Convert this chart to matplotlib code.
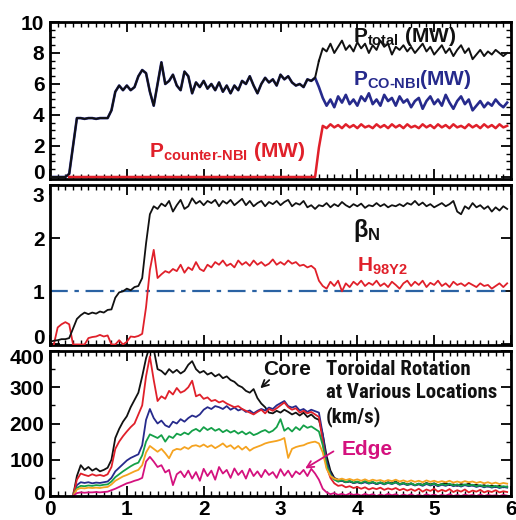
import numpy as np
import matplotlib
matplotlib.use("Agg")
import matplotlib.pyplot as plt
from matplotlib.ticker import MultipleLocator
from matplotlib.transforms import ScaledTranslation
from matplotlib import font_manager as fm

nan = float("nan")

# ---------------- data (time in s, sampled every 0.05 s) ----------------
time_s = np.round(np.arange(120) * 0.05, 2)

p_total = [0, 0, 0, 0, 0, 0.2, 2.0, 3.8,
           3.8, 3.75, 3.8, 3.8, 3.75, 3.8, 3.8, 3.8,
           4.3, 5.5, 5.9, 5.6, 5.9, 5.6, 5.8, 6.5,
           6.9, 6.7, 5.5, 4.6, 6.0, 7.4, 6.0, 6.2,
           6.6, 5.9, 5.6, 6.8, 6.5, 5.4, 6.1, 5.8,
           6.2, 5.7, 6.0, 5.6, 6.1, 5.5, 5.9, 5.4,
           5.9, 5.6, 6.2, 6.0, 6.5, 5.9, 5.4, 6.0,
           6.4, 6.1, 6.3, 5.9, 6.6, 6.3, 6.5, 6.1,
           5.9, 6.0, 5.8, 6.3, 6.2, 6.4, 7.5, 8.3,
           8.1, 8.6, 8.0, 8.4, 8.8, 8.2, 8.5, 8.1,
           8.7, 8.3, 8.6, 8.0, 8.5, 8.2, 8.8, 8.4,
           8.6, 7.9, 8.4, 8.2, 8.5, 8.1, 8.4, 8.0,
           8.3, 8.6, 8.1, 8.4, 7.9, 8.2, 8.5, 8.0,
           8.3, 7.8, 8.2, 8.5, 8.0, 8.3, 7.6, 7.9,
           8.2, 7.8, 8.1, 7.9, 8.2, 8.0, 7.8, 8.0]

# co-NBI power equals total power before 3.5 s; values from 3.50 s on:
p_co_tail = [5.8, 5.1, 4.6, 5.0, 4.5, 5.2, 4.8, 5.3,
             4.7, 5.0, 4.6, 5.2, 4.9, 5.4, 4.7, 5.0,
             4.6, 5.3, 4.9, 5.1, 4.6, 5.2, 4.8, 5.0,
             4.5, 4.9, 5.1, 4.4, 4.9, 5.2, 4.7, 5.0,
             4.6, 5.3, 4.8, 4.4, 4.9, 5.2, 4.7, 5.0,
             4.3, 4.6, 4.9, 4.5, 4.8, 4.6, 5.0, 4.7,
             4.5, 4.8]
p_co = p_total[:70] + p_co_tail

p_counter = ([nan] * 5 + [0.0] * 65 + [1.9] +
             [3.3, 3.15, 3.4, 3.2, 3.35, 3.15, 3.4, 3.2, 3.35, 3.15,
              3.4, 3.2, 3.3, 3.15, 3.4, 3.2, 3.35, 3.15, 3.4, 3.2,
              3.35, 3.15, 3.4, 3.2, 3.3, 3.15, 3.4, 3.2, 3.35, 3.15,
              3.4, 3.2, 3.35, 3.15, 3.4, 3.2, 3.3, 3.15, 3.4, 3.2,
              3.35, 3.15, 3.4, 3.2, 3.35, 3.15, 3.4, 3.2, 3.3])

beta_n = [0.05, 0.07, 0.08, 0.10, 0.10, 0.12, 0.30, 0.48,
          0.55, 0.60, 0.57, 0.60, 0.58, 0.62, 0.60, 0.65,
          0.66, 0.88, 0.98, 1.00, 1.05, 1.02, 1.08, 1.10,
          1.25, 1.90, 2.45, 2.60, 2.55, 2.65, 2.60, 2.70,
          2.50, 2.62, 2.72, 2.55, 2.60, 2.75, 2.65, 2.70,
          2.62, 2.70, 2.66, 2.72, 2.60, 2.70, 2.65, 2.72,
          2.62, 2.68, 2.74, 2.62, 2.70, 2.60, 2.66, 2.70,
          2.60, 2.68, 2.64, 2.70, 2.62, 2.68, 2.72, 2.60,
          2.66, 2.63, 2.70, 2.58, 2.62, 2.55, 2.62, 2.60,
          2.66, 2.58, 2.64, 2.60, 2.68, 2.62, 2.58, 2.64,
          2.60, 2.65, 2.57, 2.62, 2.60, 2.66, 2.60, 2.64,
          2.58, 2.62, 2.60, 2.64, 2.60, 2.66, 2.63, 2.70,
          2.62, 2.67, 2.60, 2.64, 2.58, 2.62, 2.66, 2.60,
          2.64, 2.70, 2.50, 2.45, 2.60, 2.55, 2.66, 2.58,
          2.62, 2.55, 2.60, 2.50, 2.58, 2.52, 2.60, 2.55]

h98y2 = [nan, 0.00, 0.32, 0.38, 0.42, 0.38, 0.00, 0.00,
         0.00, 0.00, 0.12, 0.14, 0.15, 0.18, 0.15, 0.17,
         0.00, 0.00, 0.08, 0.00, 0.05, 0.15, 0.14, 0.16,
         0.20, 0.70, 1.40, 1.78, 1.25, 1.32, 1.38, 1.35,
         1.42, 1.38, 1.50, 1.35, 1.45, 1.40, 1.55, 1.42,
         1.38, 1.50, 1.45, 1.55, 1.50, 1.58, 1.48, 1.52,
         1.45, 1.58, 1.50, 1.55, 1.48, 1.58, 1.50, 1.55,
         1.48, 1.52, 1.60, 1.50, 1.55, 1.50, 1.58, 1.52,
         1.55, 1.48, 1.50, 1.45, 1.48, 1.42, 1.20, 1.10,
         1.05, 1.18, 1.10, 1.20, 1.00, 1.15, 1.08, 1.18,
         1.12, 1.20, 1.10, 1.16, 1.12, 1.20, 1.10, 1.15,
         1.08, 1.18, 1.12, 1.05, 1.15, 1.20, 1.10, 1.18,
         1.12, 1.20, 1.08, 1.16, 1.12, 1.20, 1.10, 1.15,
         1.08, 1.18, 1.12, 1.15, 1.10, 1.16, 1.12, 1.08,
         1.15, 1.10, 1.12, 1.05, 1.10, 1.15, 1.08, 1.15]

h_ref = 1.0

# toroidal rotation (km/s), core -> edge
v_core = [nan] * 6 + [0, 55,
          85, 72, 80, 70, 76, 68, 72, 78,
          100, 160, 185, 205, 220, 245, 265, 285,
          330, 380, 415, 405, 350, 345, 335, 350,
          340, 348, 338, 345, 362, 372, 350, 340,
          345, 335, 340, 330, 336, 325, 330, 320,
          315, 305, 300, 290, 285, 295, 270, 255,
          245, 230, 228, 235, 230, 238, 232, 225,
          230, 222, 230, 218, 225, 215, 210, 170,
          110, 70, 50, 45, 42, 38, 40, 36,
          38, 35, 40, 36, 38, 33, 37, 34,
          38, 35, 40, 33, 36, 32, 35, 30,
          34, 31, 36, 32, 35, 30, 33, 36,
          30, 32, 28, 33, 30, 34, 29, 31,
          27, 30, 26, 29, 25, 28, 24, 26]

v_red = [nan] * 6 + [0, 45,
         62, 58, 55, 60, 56, 58, 55, 60,
         80, 130, 150, 165, 178, 190, 200, 225,
         250, 330, 385, 320, 262, 275, 268, 290,
         280, 298, 285, 290, 300, 318, 275, 280,
         268, 272, 262, 265, 258, 262, 255, 250,
         245, 248, 240, 235, 230, 225, 232, 238,
         228, 240, 235, 242, 250, 258, 245, 238,
         242, 230, 235, 228, 232, 225, 218, 150,
         80, 50, 35, 28, 30, 24, 27, 22,
         25, 20, 24, 18, 22, 19, 23, 17,
         21, 18, 22, 16, 20, 15, 19, 14,
         20, 12, 18, 14, 20, 12, 17, 13,
         19, 11, 16, 12, 18, 10, 15, 12,
         17, 10, 14, 11, 16, 10, 13, 11]

v_blue = [nan] * 6 + [0, 30,
          38, 36, 38, 35, 37, 36, 38, 40,
          50, 68, 78, 88, 98, 105, 110, 115,
          140, 210, 240, 215, 200, 208, 195, 190,
          205, 200, 212, 205, 215, 222, 218, 225,
          238, 245, 240, 248, 245, 240, 248, 238,
          244, 236, 240, 232, 236, 228, 235, 240,
          236, 244, 240, 250, 256, 262, 248, 244,
          248, 236, 240, 232, 238, 234, 230, 170,
          95, 62, 48, 40, 42, 38, 41, 36,
          39, 35, 38, 34, 37, 33, 36, 32,
          36, 33, 37, 31, 34, 30, 33, 29,
          32, 28, 33, 29, 32, 27, 31, 28,
          32, 27, 30, 26, 30, 27, 29, 25,
          28, 24, 27, 23, 26, 22, 25, 23]

v_green = [nan] * 6 + [0, 22,
           28, 27, 29, 28, 30, 29, 31, 32,
           40, 52, 60, 68, 75, 82, 88, 92,
           112, 150, 170, 165, 160, 168, 150, 165,
           160, 172, 168, 175, 170, 180, 185, 178,
           190, 182, 188, 180, 185, 176, 182, 175,
           180, 172, 178, 170, 176, 168, 172, 178,
           182, 175, 180, 190, 212, 180, 188, 178,
           190, 182, 195, 188, 192, 185, 178, 140,
           85, 58, 45, 40, 44, 38, 42, 37,
           40, 36, 41, 35, 39, 34, 38, 33,
           37, 34, 38, 32, 36, 31, 35, 30,
           34, 30, 35, 31, 34, 29, 33, 30,
           34, 29, 32, 28, 32, 29, 31, 27,
           30, 26, 29, 25, 28, 24, 27, 25]

v_orange = [nan] * 6 + [0, 18,
            22, 21, 23, 22, 23, 22, 24, 25,
            32, 42, 48, 54, 58, 63, 68, 72,
            85, 120, 138, 130, 122, 130, 118, 104,
            125, 130, 128, 135, 130, 138, 140, 136,
            142, 135, 140, 132, 138, 145, 135, 140,
            130, 138, 128, 136, 125, 132, 136, 140,
            145, 148, 150, 152, 155, 160, 105, 130,
            135, 138, 140, 145, 148, 150, 145, 120,
            75, 55, 48, 45, 48, 44, 47, 43,
            46, 42, 46, 41, 45, 42, 44, 40,
            44, 41, 45, 40, 43, 39, 43, 39,
            42, 38, 43, 39, 42, 38, 41, 38,
            42, 37, 40, 37, 41, 38, 40, 36,
            39, 35, 38, 34, 37, 33, 36, 34]

v_edge = [nan] * 6 + [0, 8,
          10, 9, 10, 10, 11, 10, 11, 12,
          16, 20, 25, 30, 35, 38, 42, 45,
          50, 95, 108, 95, 80, 85, 65, 72,
          30, 60, 68, 52, 70, 48, 66, 42,
          75, 55, 70, 45, 80, 62, 72, 50,
          76, 58, 70, 48, 75, 55, 68, 52,
          72, 58, 66, 50, 74, 56, 70, 52,
          68, 60, 72, 55, 75, 62, 45, 20,
          10, 5, 8, 3, 6, 2, 7, 3,
          5, 1, 6, 2, 5, 0, 4, 1,
          6, 2, 5, 0, 4, 1, 5, 0,
          3, 0, 5, 1, 4, 0, 3, 1,
          5, 0, 3, 0, 4, 1, 3, 0,
          4, 0, 3, 1, 2, 0, 3, 1]

x_ticks = [0, 1, 2, 3, 4, 5, 6]
p_ticks = [0, 2, 4, 6, 8, 10]
b_ticks = [0, 1, 2, 3]
v_ticks = [0, 100, 200, 300, 400]

# ---------------- style ----------------
names = {f.name for f in fm.fontManager.ttflist}
BASE = "Liberation Sans" if "Liberation Sans" in names else "DejaVu Sans"
NARROW = None
for cand in ["Liberation Sans Narrow", "Arial Narrow", "Nimbus Sans Narrow",
             "Roboto Condensed", "Open Sans Condensed"]:
    if cand in names:
        NARROW = cand
        break
ROT_FAMILY = [NARROW, BASE] if NARROW else [BASE]
ROT_SIZE = 15 if NARROW else 12.6

plt.rcParams["font.family"] = [BASE, "DejaVu Sans"]
plt.rcParams["font.weight"] = "bold"
plt.rcParams["mathtext.fontset"] = "custom"
plt.rcParams["mathtext.rm"] = BASE + ":bold"
plt.rcParams["mathtext.bf"] = BASE + ":bold"
plt.rcParams["mathtext.it"] = BASE
plt.rcParams["mathtext.sf"] = BASE + ":bold"

BLACK = "#111111"
RED = "#e0202a"
NAVY = "#262a8c"
GREEN = "#14a048"
ORANGE = "#f5a320"
MAGENTA = "#d4117e"
DASHBLUE = "#2a62a3"

fig = plt.figure(figsize=(5.16, 5.20), dpi=100)
L, W = 50 / 516, 461 / 516
ax1 = fig.add_axes([L, 341 / 520, W, 157 / 520])
ax2 = fig.add_axes([L, 175 / 520, W, 160 / 520])
ax3 = fig.add_axes([L, 24 / 520, W, 145 / 520])

for ax in (ax1, ax2, ax3):
    ax.set_xlim(0, 6)
    ax.set_xticks(x_ticks)
    ax.xaxis.set_minor_locator(MultipleLocator(0.1))
    ax.tick_params(which="both", direction="in", top=True, right=True)
    ax.tick_params(which="major", length=7, width=1.3, labelsize=15, pad=4)
    ax.tick_params(which="minor", length=3.5, width=1.0)
    for s in ax.spines.values():
        s.set_linewidth(2.0)
for ax in (ax1, ax2):
    ax.tick_params(axis="x", labelbottom=False)

# ---- panel 1: powers ----
ax1.plot(time_s, p_co, color=NAVY, lw=1.9, zorder=2)
ax1.plot(time_s[:71], p_total[:71], color=BLACK, lw=1.4, zorder=3)
ax1.plot(time_s[70:], p_total[70:], color=BLACK, lw=1.4, zorder=3)
ax1.plot(time_s, p_counter, color=RED, lw=1.8, zorder=3)
ax1.set_ylim(-0.13, 10.0)
ax1.set_yticks(p_ticks)
ax1.yaxis.set_minor_locator(MultipleLocator(0.5))
ax1.text(3.95, 8.7, r"P$_{\text{total}}$ (MW)", color=BLACK, fontsize=15,
         fontweight="bold", ha="left", va="baseline")
ax1.text(3.95, 5.94, r"P$_{\text{CO-NBI}}$(MW)", color=NAVY, fontsize=15,
         fontweight="bold", ha="left", va="baseline")
ax1.text(1.29, 1.3, r"P$_{\text{counter-NBI}}$ (MW)", color=RED, fontsize=15,
         fontweight="bold", ha="left", va="baseline")

# ---- panel 2: beta_N, H98 ----
ax2.axhline(h_ref, color=DASHBLUE, lw=1.6, linestyle=(0, (8, 3, 2, 3)), zorder=2)
ax2.plot(time_s, h98y2, color=RED, lw=1.3, zorder=3)
ax2.plot(time_s, beta_n, color=BLACK, lw=1.3, zorder=3)
ax2.set_ylim(-0.01, 2.98)
ax2.set_yticks(b_ticks)
ax2.text(3.95, 2.02, r"$\beta_{\text{N}}$", color=BLACK, fontsize=17,
         ha="left", va="baseline")
ax2.text(4.0, 1.37, r"H$_{\text{98Y2}}$", color=RED, fontsize=15,
         fontweight="bold", ha="left", va="baseline")

# ---- panel 3: toroidal rotation ----
for vals, col in [(v_core, BLACK), (v_blue, NAVY), (v_red, RED),
                  (v_green, GREEN), (v_orange, ORANGE), (v_edge, MAGENTA)]:
    ax3.plot(time_s, vals, color=col, lw=1.3)
ax3.set_ylim(0, 400)
ax3.set_yticks(v_ticks)
ax3.yaxis.set_minor_locator(MultipleLocator(50))
ax3.set_xticklabels([str(v) for v in x_ticks])
ax3.tick_params(axis="x", pad=3)

ax3.text(2.77, 334, "Core", color=BLACK, fontsize=15, fontweight="bold",
         ha="left", va="baseline")
ax3.annotate("", xy=(2.71, 292), xytext=(2.88, 325),
             arrowprops=dict(arrowstyle="->", color=BLACK, lw=1.3,
                             mutation_scale=12))
for txt, yb in [("Toroidal Rotation", 334), ("at Various Locations", 270),
                ("(km/s)", 204)]:
    ax3.text(3.59, yb, txt, color=BLACK, fontsize=ROT_SIZE, fontweight="bold",
             family=ROT_FAMILY, ha="left", va="baseline")
ax3.text(3.79, 113, "Edge", color=MAGENTA, fontsize=15, fontweight="bold",
         ha="left", va="baseline")
ax3.annotate("", xy=(3.29, 72), xytext=(3.72, 127),
             arrowprops=dict(arrowstyle="->", color=MAGENTA, lw=1.3,
                             mutation_scale=12))


def nudge(label, dy_px):
    label.set_transform(label.get_transform() +
                        ScaledTranslation(0, dy_px / 100.0, fig.dpi_scale_trans))


for ax in (ax1, ax2, ax3):
    for lab in ax.get_yticklabels() + ax.get_xticklabels():
        lab.set_fontweight("bold")

nudge(ax1.get_yticklabels()[0], 5)
nudge(ax2.get_yticklabels()[0], 8)
nudge(ax2.get_yticklabels()[-1], -9)
nudge(ax3.get_yticklabels()[0], 4)
nudge(ax3.get_yticklabels()[-1], -6)

fig.savefig("out.png", dpi=100)
